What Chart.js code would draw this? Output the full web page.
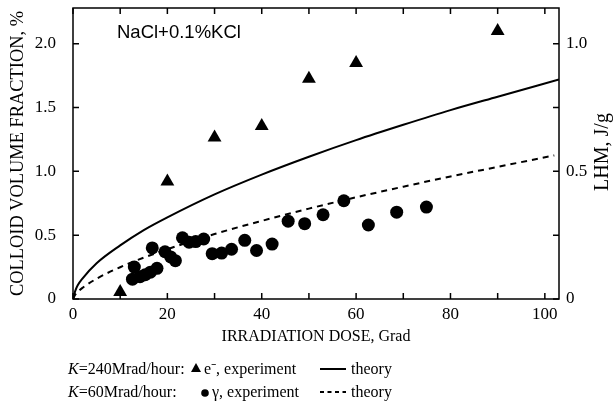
<!DOCTYPE html>
<html>
<head>
<meta charset="utf-8">
<script src="https://cdn.jsdelivr.net/npm/chart.js@4"></script>
<style>
  html, body { margin: 0; padding: 0; background: #fff; }
  #wrap { width: 614px; height: 403px; }
</style>
</head>
<body>
<div id="wrap"><canvas id="chart" width="614" height="403"></canvas></div>
<script>
// e- experiment, K=240 Mrad/hour
const eDose  = [10, 20, 30, 40, 50, 60, 90];
const eFrac  = [0.055, 0.92, 1.265, 1.355, 1.725, 1.85, 2.10];

// gamma experiment, K=60 Mrad/hour
const gDose = [12.6, 13.0, 14.2, 15.3, 16.4, 16.8, 17.8, 19.5, 20.7, 21.7, 23.2, 24.6, 26.0, 27.7,
               29.5, 31.5, 33.6, 36.4, 38.9, 42.2, 45.6, 49.1, 53.0, 57.4, 62.6, 68.6, 74.9];
const gFrac = [0.155, 0.25, 0.175, 0.19, 0.21, 0.40, 0.24, 0.37, 0.33, 0.30, 0.48, 0.445, 0.45, 0.47,
               0.355, 0.36, 0.39, 0.46, 0.38, 0.43, 0.61, 0.59, 0.66, 0.77, 0.58, 0.68, 0.72];

// theory curves
const thDose     = [0, 0.5, 1, 2, 5, 10, 15, 20, 30, 40, 50, 60, 70, 80, 90, 103];
const thSolid    = [0, 0.066, 0.107, 0.16, 0.28, 0.42, 0.54, 0.64, 0.82, 0.975, 1.115, 1.245, 1.365, 1.48, 1.585, 1.72];
const thDashDose = [0, 0.5, 1, 2, 5, 10, 15, 20, 30, 40, 50, 60, 70, 80, 90, 102];
const thDashed   = [0, 0.035, 0.056, 0.087, 0.159, 0.249, 0.324, 0.39, 0.509, 0.612, 0.708, 0.797, 0.88, 0.96, 1.035, 1.125];

const xTicks  = [0, 10, 20, 30, 40, 50, 60, 70, 80, 90, 100];
const yTicks  = [0, 0.5, 1.0, 1.5, 2.0];
const y1Ticks = [0, 0.25, 0.5, 0.75, 1.0];

const pts = (xs, ys) => xs.map((x, i) => ({x: x, y: ys[i]}));
const serif = '"Liberation Serif", "Times New Roman", serif';
const label1 = v => (v === 0 ? '0' : v.toFixed(1));

// frame + inward ticks + free texts
const decor = {
  id: 'decor',
  afterDraw(chart) {
    const {ctx, chartArea: a, scales} = chart;
    ctx.save();
    ctx.strokeStyle = '#000';
    ctx.lineWidth = 1.5;
    ctx.strokeRect(a.left, a.top, a.right - a.left, a.bottom - a.top);
    ctx.beginPath();
    xTicks.forEach(v => {
      const px = scales.x.getPixelForValue(v);
      ctx.moveTo(px, a.bottom); ctx.lineTo(px, a.bottom - 6);
      ctx.moveTo(px, a.top); ctx.lineTo(px, a.top + 6);
    });
    yTicks.forEach(v => {
      const py = scales.y.getPixelForValue(v);
      ctx.moveTo(a.left, py); ctx.lineTo(a.left + 6, py);
    });
    y1Ticks.forEach(v => {
      const py = scales.y1.getPixelForValue(v);
      ctx.moveTo(a.right, py); ctx.lineTo(a.right - 6, py);
    });
    ctx.stroke();

    ctx.fillStyle = '#000';
    ctx.font = '18.5px "Liberation Sans", Arial, sans-serif';
    ctx.textBaseline = 'alphabetic';
    ctx.fillText('NaCl+0.1%KCl', 117, 38);

    // right axis title, reading upward
    ctx.save();
    ctx.translate(603, 152);
    ctx.rotate(-Math.PI / 2);
    ctx.textAlign = 'center';
    ctx.textBaseline = 'middle';
    ctx.font = '20px ' + serif;
    ctx.fillText('LHM, J/g', 0, 0);
    ctx.restore();

    // legend
    const line = (y, label, sym, what, dashed) => {
      ctx.font = 'italic 16px ' + serif;
      ctx.fillText('K', 68, y);
      const kw = ctx.measureText('K').width;
      ctx.font = '16px ' + serif;
      ctx.fillText(label, 68 + kw, y);
      ctx.fillText(what, sym === 'tri' ? 204 : 212, y);
      if (sym === 'tri') {
        ctx.beginPath();
        ctx.moveTo(196, y - 11); ctx.lineTo(201, y - 2); ctx.lineTo(191, y - 2);
        ctx.closePath(); ctx.fill();
      } else {
        ctx.beginPath();
        ctx.arc(205, y - 4, 3.8, 0, Math.PI * 2); ctx.fill();
      }
      ctx.beginPath();
      ctx.lineWidth = 2;
      ctx.setLineDash(dashed ? [4, 3.5] : []);
      ctx.moveTo(320, y - 5); ctx.lineTo(346, y - 5);
      ctx.stroke();
      ctx.setLineDash([]);
      ctx.fillText('theory', 351, y);
    };
    line(374, '=240Mrad/hour:', 'tri', 'e\u207B, experiment', false);
    line(397, '=60Mrad/hour:', 'dot', '\u03B3, experiment', true);
    ctx.restore();
  }
};

const noPad = s => { s.paddingTop = 0; s.paddingBottom = 0; s.paddingLeft = 0; s.paddingRight = 0; };

new Chart(document.getElementById('chart'), {
  type: 'scatter',
  data: {
    datasets: [
      {
        label: 'theory 240',
        type: 'line',
        data: pts(thDose, thSolid),
        borderColor: '#000',
        borderWidth: 2,
        pointRadius: 0,
        cubicInterpolationMode: 'monotone'
      },
      {
        label: 'theory 60',
        type: 'line',
        data: pts(thDashDose, thDashed),
        borderColor: '#000',
        borderWidth: 2,
        borderDash: [6, 5],
        pointRadius: 0,
        cubicInterpolationMode: 'monotone'
      },
      {
        label: 'e- experiment',
        data: pts(eDose, eFrac),
        pointStyle: 'triangle',
        pointRadius: 8,
        backgroundColor: '#000',
        borderColor: '#000',
        borderWidth: 0
      },
      {
        label: 'gamma experiment',
        data: pts(gDose, gFrac),
        pointStyle: 'circle',
        pointRadius: 6.5,
        backgroundColor: '#000',
        borderColor: '#000',
        borderWidth: 0
      }
    ]
  },
  options: {
    responsive: false,
    animation: false,
    layout: { padding: { left: 0, right: 0, top: 7, bottom: 54 } },
    plugins: { legend: { display: false }, tooltip: { enabled: false } },
    scales: {
      x: {
        type: 'linear',
        min: 0, max: 103,
        grid: { display: false, drawTicks: false },
        border: { display: false },
        afterFit: s => { s.height = 50; noPad(s); },
        ticks: {
          stepSize: 20,
          includeBounds: false,
          padding: 5,
          color: '#000',
          font: { family: serif, size: 17 },
          callback: v => String(v)
        },
        title: {
          display: true,
          text: 'IRRADIATION DOSE, Grad',
          color: '#000',
          font: { family: serif, size: 16 },
          padding: { top: 0, bottom: 3 }
        }
      },
      y: {
        position: 'left',
        min: 0, max: 2.28,
        grid: { display: false, drawTicks: false },
        border: { display: false },
        afterFit: s => { s.width = 73; noPad(s); },
        ticks: {
          stepSize: 0.5,
          includeBounds: false,
          padding: 17,
          color: '#000',
          font: { family: serif, size: 17 },
          callback: label1
        },
        title: {
          display: true,
          text: 'COLLOID VOLUME FRACTION, %',
          color: '#000',
          font: { family: serif, size: 18.4 },
          padding: { top: 7, bottom: 0 }
        }
      },
      y1: {
        position: 'right',
        min: 0, max: 1.14,
        grid: { display: false, drawTicks: false },
        border: { display: false },
        afterFit: s => { s.width = 55; noPad(s); },
        ticks: {
          stepSize: 0.5,
          includeBounds: false,
          padding: 7,
          color: '#000',
          font: { family: serif, size: 17 },
          callback: label1
        }
      }
    }
  },
  plugins: [decor]
});
</script>
</body>
</html>
